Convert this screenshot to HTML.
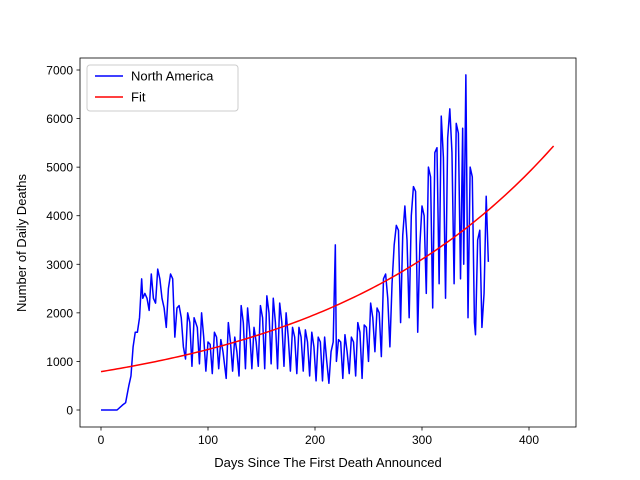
<!DOCTYPE html>
<html><head><meta charset="utf-8"><style>
body{margin:0;background:#fff;}
svg{display:block;font-family:"Liberation Sans","DejaVu Sans",sans-serif;}
</style></head><body>
<svg id="chart" width="640" height="480"></svg>
<script>
const days=[0,15,20,23,26,28,30,32,34,36,38,39,41,43,45,47,49,51,53,55,57,59,61,63,65,67,69,71,73,75,77,79,81,83,85,87,90,92,94,96,98,100,102,104,106,108,110,112,114,117,119,121,123,125,127,129,131,133,135,137,139,141,143,145,147,149,151,153,155,157,159,161,163,165,167,169,171,173,175,177,179,181,183,185,187,189,191,193,195,197,199,201,203,205,207,209,211,213,215,217,219,220,222,224,226,228,230,232,234,236,238,240,242,244,246,248,250,252,254,256,258,260,262,264,266,268,270,272,274,276,278,280,282,284,286,288,290,292,294,296,298,300,302,304,306,308,310,312,314,316,318,320,322,324,326,328,330,332,334,336,338,339,341,343,345,347,349,350,352,354,356,358,360,362];
const deaths=[0,0,100,150,500,700,1300,1600,1600,1900,2700,2300,2400,2300,2050,2800,2300,2200,2900,2700,2300,2100,1700,2500,2800,2700,1500,2100,2150,1900,1300,1050,2000,1800,900,1900,1700,950,2000,1500,800,1400,1350,750,1600,1500,850,1450,1200,650,1800,1400,800,1500,1200,700,2150,1800,850,2100,1600,850,1700,1400,900,2150,1900,850,2350,2000,950,2300,1800,850,2200,1800,900,2000,1500,800,1700,1500,750,1700,1500,800,1650,1400,700,1600,1300,600,1500,1400,600,1500,1000,550,1200,1400,3400,1000,1450,1400,650,1550,1200,750,1500,1400,700,1800,1600,650,1750,1700,1000,2200,1900,1200,2100,2000,1100,2700,2800,2300,1300,2600,3400,3800,3700,1800,3600,4200,3500,1900,4000,4600,4500,1600,3400,4200,4000,2400,5000,4800,2100,5300,5400,2600,6050,5200,2300,5600,6200,5300,2600,5900,5700,2700,5800,3000,6900,1900,5000,4800,1800,1550,3500,3700,1700,2400,4400,3050];
const fitParams=[790,0.00456];
const fitRange=[0,423];
const xTicks=[0,100,200,300,400];
const yTicks=[0,1000,2000,3000,4000,5000,6000,7000];

const NS="http://www.w3.org/2000/svg";
const svg=document.getElementById('chart');
const L=80,R=576,T=58,B=427;
const X=d=>101+d*1.07;
const Y=v=>410-v*0.048571;
function mk(tag,attrs,parent){const e=document.createElementNS(NS,tag);for(const k in attrs)e.setAttribute(k,attrs[k]);(parent||svg).appendChild(e);return e;}

// data line
let p=days.map((d,i)=>(i?'L':'M')+X(d).toFixed(2)+','+Y(deaths[i]).toFixed(2)).join('');
const dl=mk('path',{d:p,fill:'none',stroke:'#0000ff','stroke-width':1.5,'stroke-linejoin':'round'});


// fit line
let fp='';
for(let d=fitRange[0];d<=fitRange[1];d+=3){const v=fitParams[0]*Math.exp(fitParams[1]*d);fp+=(fp?'L':'M')+X(d).toFixed(2)+','+Y(v).toFixed(2);}
const fl=mk('path',{d:fp,fill:'none',stroke:'#ff0000','stroke-width':1.5});



// frame
const fr=mk('rect',{x:L,y:T,width:R-L,height:B-T,fill:'none',stroke:'#000','stroke-width':0.8});



xTicks.forEach(t=>{
  mk('line',{x1:X(t),x2:X(t),y1:B,y2:B+3.5,stroke:'#000','stroke-width':0.8});
  const tx=mk('text',{x:X(t),y:B+17,'font-size':12,'text-anchor':'middle'});
  tx.textContent=t;
  
  
});
yTicks.forEach(t=>{
  mk('line',{x1:L-3.5,x2:L,y1:Y(t),y2:Y(t),stroke:'#000','stroke-width':0.8});
  const tx=mk('text',{x:L-7,y:Y(t)+4.5,'font-size':12,'text-anchor':'end'});
  tx.textContent=t;
  
  
});
const xl=mk('text',{x:328,y:467,'font-size':13,'text-anchor':'middle'});
xl.textContent='Days Since The First Death Announced';


const yl=mk('text',{x:0,y:0,'font-size':13,'text-anchor':'middle',transform:'translate(26,243) rotate(-90)'});
yl.textContent='Number of Daily Deaths';



// legend
const lg=mk('g',{});


mk('rect',{x:87,y:65,width:151,height:46,rx:3,fill:'#fff','fill-opacity':0.8,stroke:'#ccc','stroke-width':1},lg);
[['North America','#0000ff',76],['Fit','#ff0000',97]].forEach(([n,c,y])=>{
  const g=mk('g',{},lg);
  
  
  mk('line',{x1:95,x2:123,y1:y,y2:y,stroke:c,'stroke-width':1.5},g);
  const t=mk('text',{x:131,y:y+4.5,'font-size':13},g);
  t.textContent=n;
});
</script>
</body></html>
